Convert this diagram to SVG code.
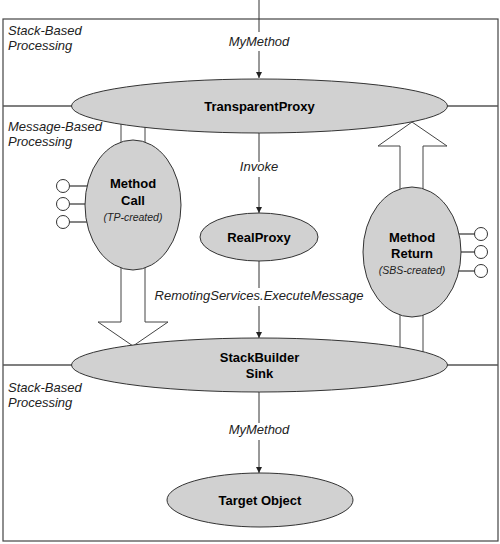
<svg xmlns="http://www.w3.org/2000/svg" width="500" height="544" viewBox="0 0 500 544">
<defs>
<marker id="ah" viewBox="0 0 10 10" refX="10" refY="5" markerWidth="6" markerHeight="6" markerUnits="userSpaceOnUse" orient="auto">
<path d="M0,0 L10,5 L0,10 z" fill="#222"/>
</marker>
</defs>
<style>
.frame{fill:none;stroke:#444;stroke-width:1.2}
.sep{stroke:#555;stroke-width:1.5}
.node{fill:#d1d1d1;stroke:#333;stroke-width:1}
.conn{fill:none;stroke:#333;stroke-width:1;marker-end:url(#ah)}
.big{fill:#fff;stroke:#444;stroke-width:1}
.lp{fill:#fff;stroke:#333;stroke-width:1}
.lpl{stroke:#333;stroke-width:1.2}
.bg{fill:#fff;stroke:none}
.b{font-family:"Liberation Sans",Arial,sans-serif;font-weight:bold;font-size:13px;fill:#000;text-anchor:middle}
.i{font-family:"Liberation Sans",Arial,sans-serif;font-style:italic;font-size:13px;fill:#222}
.im{text-anchor:middle}
.s{font-family:"Liberation Sans",Arial,sans-serif;font-style:italic;font-size:10.5px;fill:#222;text-anchor:middle}
</style>
<rect class="frame" x="3" y="19" width="495" height="522"/>
<line class="sep" x1="3" y1="106" x2="498" y2="106"/>
<line class="sep" x1="3" y1="365" x2="498" y2="365"/>
<text class="i" x="8" y="35">Stack-Based</text>
<text class="i" x="8" y="50">Processing</text>
<text class="i" x="8" y="131">Message-Based</text>
<text class="i" x="8" y="146">Processing</text>
<text class="i" x="8" y="392">Stack-Based</text>
<text class="i" x="8" y="407">Processing</text>
<g id="connectors">
<line class="conn" x1="259" y1="0" x2="259" y2="78"/>
<line class="conn" x1="259" y1="133" x2="259" y2="213"/>
<line class="conn" x1="259" y1="261" x2="259" y2="338"/>
<line class="conn" x1="259" y1="392" x2="259" y2="473"/>
<polygon class="big" points="121,110 145,110 145,322 168,322 133,346 98,322 121,322"/>
<polygon class="big" points="400,360 423,360 423,146 447,146 412,122 378,146 400,146"/>
<rect class="bg" x="226" y="32" width="66" height="19"/>
<rect class="bg" x="237" y="162" width="44" height="15"/>
<rect class="bg" x="152" y="288" width="216" height="18"/>
<rect class="bg" x="226" y="423" width="66" height="17"/>
<text class="i im" x="259" y="46">MyMethod</text>
<text class="i im" x="259" y="171">Invoke</text>
<text class="i im" x="259" y="300">RemotingServices.ExecuteMessage</text>
<text class="i im" x="259" y="434">MyMethod</text>
</g>
<g id="transparentproxy">
<ellipse class="node" cx="259.5" cy="106" rx="188" ry="27"/>
<text class="b" x="259.5" y="111">TransparentProxy</text>
</g>
<g id="methodcall">
<line class="lpl" x1="70" y1="186" x2="90" y2="186"/>
<line class="lpl" x1="70" y1="204" x2="90" y2="204"/>
<line class="lpl" x1="70" y1="222" x2="90" y2="222"/>
<circle class="lp" cx="63" cy="186" r="6.5"/>
<circle class="lp" cx="63" cy="204" r="6.5"/>
<circle class="lp" cx="63" cy="222" r="6.5"/>
<ellipse class="node" cx="133" cy="205" rx="48" ry="65"/>
<text class="b" x="133" y="188">Method</text>
<text class="b" x="133" y="205">Call</text>
<text class="s" x="133" y="221">(TP-created)</text>
</g>
<g id="realproxy">
<ellipse class="node" cx="259" cy="237" rx="59" ry="24"/>
<text class="b" x="259" y="242">RealProxy</text>
</g>
<g id="methodreturn">
<line class="lpl" x1="455" y1="234" x2="475" y2="234"/>
<line class="lpl" x1="455" y1="252" x2="475" y2="252"/>
<line class="lpl" x1="455" y1="271" x2="475" y2="271"/>
<circle class="lp" cx="481" cy="234" r="6.5"/>
<circle class="lp" cx="481" cy="252" r="6.5"/>
<circle class="lp" cx="481" cy="271" r="6.5"/>
<ellipse class="node" cx="412" cy="252" rx="49" ry="65"/>
<text class="b" x="412" y="242">Method</text>
<text class="b" x="412" y="258">Return</text>
<text class="s" x="412" y="274">(SBS-created)</text>
</g>
<g id="stackbuildersink">
<ellipse class="node" cx="259.5" cy="365" rx="188" ry="27"/>
<text class="b" x="259.5" y="362">StackBuilder</text>
<text class="b" x="259.5" y="378">Sink</text>
</g>
<g id="targetobject">
<ellipse class="node" cx="260" cy="500" rx="93" ry="27"/>
<text class="b" x="260" y="505">Target Object</text>
</g>
</svg>
